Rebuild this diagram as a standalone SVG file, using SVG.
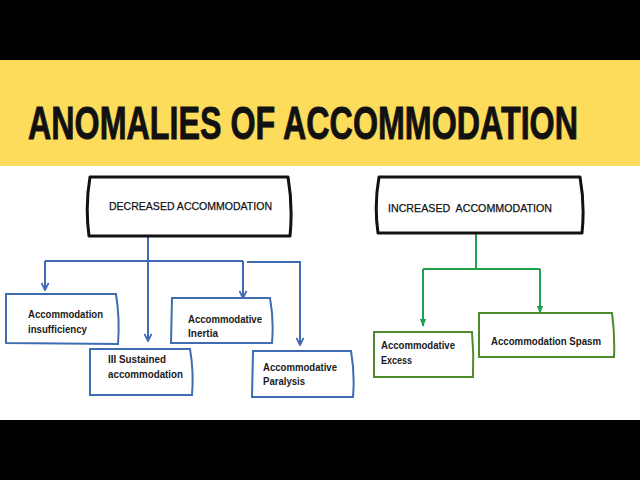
<svg xmlns="http://www.w3.org/2000/svg" width="640" height="480" viewBox="0 0 640 480">
<defs>
<style>
.bar{fill:#000}
.band{fill:#FDDC5C}
.title{font-family:"Liberation Sans",Arial,sans-serif;font-weight:bold;font-size:32px;fill:#111;stroke:#111;stroke-width:0.6}
.hd{fill:#fff;stroke:#111;stroke-width:3;stroke-linejoin:round}
.hdt{font-family:"Liberation Sans",Arial,sans-serif;font-size:11px;fill:#111;stroke:#111;stroke-width:0.25;white-space:pre}
.bb{fill:#fff;stroke:#3F6CB2;stroke-width:2}
.gb{fill:#fff;stroke:#4E8A2E;stroke-width:2}
.lt{font-family:"Liberation Sans",Arial,sans-serif;font-weight:bold;font-size:11px;fill:#1a1a1a}
.bl{fill:none;stroke:#4169B4;stroke-width:2}
.gl{fill:none;stroke:#1FA04A;stroke-width:2}
</style>
<marker id="arb" viewBox="0 0 10 10" refX="9" refY="5" markerWidth="9" markerHeight="9" markerUnits="userSpaceOnUse" orient="auto">
<path d="M1,1 L9,5 L1,9" fill="none" stroke="#4169B4" stroke-width="2"/>
</marker>
<marker id="arg" viewBox="0 0 10 10" refX="9" refY="5" markerWidth="8" markerHeight="8" markerUnits="userSpaceOnUse" orient="auto">
<path d="M0,1 L10,5 L0,9 Z" fill="#1FA04A"/>
</marker>
</defs>

<rect class="bar" x="0" y="0" width="640" height="60"/>
<rect class="band" x="0" y="60" width="640" height="106"/>
<rect x="0" y="166" width="640" height="254" fill="#fff"/>
<rect class="bar" x="0" y="420" width="640" height="60"/>

<text class="title" transform="translate(28,139) scale(1,1.47)" x="0" y="0" textLength="550" lengthAdjust="spacingAndGlyphs">ANOMALIES OF ACCOMMODATION</text>

<g id="connectors">
<path class="bl" d="M148,236 L148,341" marker-end="url(#arb)"/>
<path class="bl" d="M45,261 L243,261"/>
<path class="bl" d="M45,261 L45,290" marker-end="url(#arb)"/>
<path class="bl" d="M243,261 L243,298" marker-end="url(#arb)"/>
<path class="bl" d="M247,262 L300,262 L300,345" marker-end="url(#arb)"/>
<path class="gl" d="M476,233 L476,269"/>
<path class="gl" d="M423,269 L540,269"/>
<path class="gl" d="M423,269 L423,326" marker-end="url(#arg)"/>
<path class="gl" d="M540,269 L540,313" marker-end="url(#arg)"/>
</g>

<g id="decreased">
<path class="hd" d="M90,177 L288,177 Q293,206 290,236 L89,236 Q85,206 90,177 Z"/>
<text class="hdt" x="109" y="210" textLength="163" lengthAdjust="spacingAndGlyphs">DECREASED ACCOMMODATION</text>
</g>

<g id="increased">
<path class="hd" d="M379,177 L580,177 Q585,205 582,233 L378,233 Q374,205 379,177 Z"/>
<text class="hdt" x="388" y="212" textLength="164" lengthAdjust="spacingAndGlyphs" xml:space="preserve">INCREASED  ACCOMMODATION</text>
</g>

<g id="insufficiency">
<path class="bb" d="M6,294 L116,294 Q120,319 118,344 L6,343 Z"/>
<text class="lt" x="28" y="318" textLength="75" lengthAdjust="spacingAndGlyphs">Accommodation</text>
<text class="lt" x="28" y="333" textLength="59" lengthAdjust="spacingAndGlyphs">insufficiency</text>
</g>

<g id="sustained">
<path class="bb" d="M90,349 L190,349 Q194,372 192,395 L90,395 Z"/>
<text class="lt" x="108" y="363" textLength="58" lengthAdjust="spacingAndGlyphs">III Sustained</text>
<text class="lt" x="108" y="378" textLength="75" lengthAdjust="spacingAndGlyphs">accommodation</text>
</g>

<g id="inertia">
<path class="bb" d="M172,298 L270,298 Q274,320 272,343 L171,343 Z"/>
<text class="lt" x="188" y="323" textLength="74" lengthAdjust="spacingAndGlyphs">Accommodative</text>
<text class="lt" x="188" y="337" textLength="30" lengthAdjust="spacingAndGlyphs">Inertia</text>
</g>

<g id="paralysis">
<path class="bb" d="M253,351 L351,351 Q355,374 353,397 L252,397 Z"/>
<text class="lt" x="263" y="371" textLength="74" lengthAdjust="spacingAndGlyphs">Accommodative</text>
<text class="lt" x="263" y="385" textLength="42" lengthAdjust="spacingAndGlyphs">Paralysis</text>
</g>

<g id="excess">
<path class="gb" d="M374,332 L472,332 Q474,354 473,377 L374,377 Z"/>
<text class="lt" x="381" y="349" textLength="74" lengthAdjust="spacingAndGlyphs">Accommodative</text>
<text class="lt" x="381" y="364" textLength="31" lengthAdjust="spacingAndGlyphs">Excess</text>
</g>

<g id="spasm">
<path class="gb" d="M479,313 L612,313 Q615,335 614,357 L479,357 Z"/>
<text class="lt" x="491" y="345" textLength="110" lengthAdjust="spacingAndGlyphs">Accommodation Spasm</text>
</g>
</svg>
